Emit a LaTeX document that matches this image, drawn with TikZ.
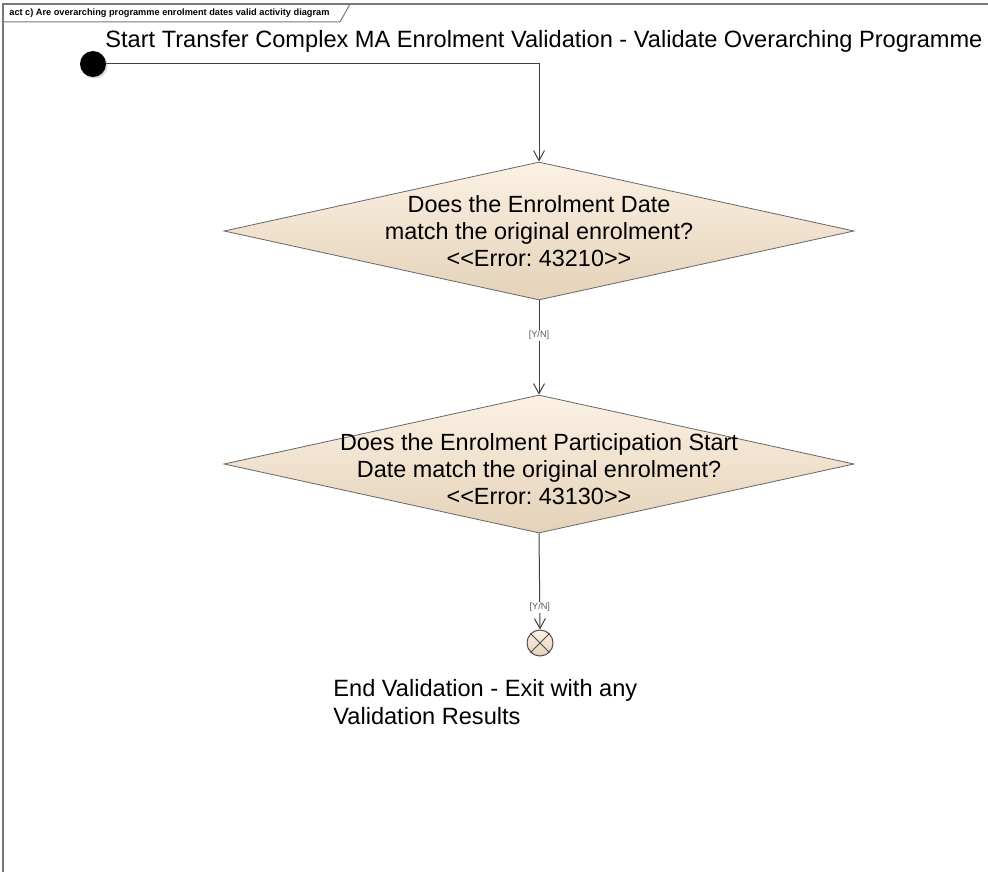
\documentclass[tikz,border=0pt]{standalone}
\usepackage{fontspec}
\setmainfont{Liberation Sans}[Ligatures=TeXOff]
\frenchspacing
\usetikzlibrary{shapes.geometric,arrows.meta,shadows}
\definecolor{decisiontop}{RGB}{252,241,228}
\definecolor{decisionbottom}{RGB}{228,210,184}
\definecolor{framegray}{RGB}{120,120,120}

\begin{document}
\begin{tikzpicture}[x=0.5pt,y=-0.5pt,
  flow/.style={draw=black!75, line width=0.5pt, -{Straight Barb[length=5pt,width=5.5pt]}},
  decision/.style={diamond, draw=black!60, line width=0.4pt, top color=decisiontop,
    bottom color=decisionbottom, minimum width=315pt, minimum height=69pt, inner sep=0pt},
  decisiontext/.style={align=center, font=\fontsize{11.7}{13.5}\selectfont},
  guard/.style={font=\fontsize{4.6}{5}\selectfont, text=black!65, fill=white, inner sep=0.6pt}]
  \useasboundingbox (0,0) rectangle (988,872);
  % diagram frame and title tab
  \draw[framegray, line width=0.6pt] (3,872) -- (3,4) -- (988,4);
  \draw[framegray, line width=0.5pt] (3,22) -- (340,22) -- (350,4);
  \node[anchor=west, font=\bfseries\fontsize{4.6}{5}\selectfont, inner sep=0pt] (title) at (9,13)
    {act c) Are overarching programme enrolment dates valid activity diagram};
  % start node
  \node[circle, fill=black, minimum size=13pt, inner sep=0pt,
    drop shadow={shadow xshift=0.8pt, shadow yshift=-0.8pt, opacity=0.3}] (start) at (93,64) {};
  \node[anchor=base west, font=\fontsize{11.8}{14}\selectfont, inner sep=0pt] (startlabel) at (105,48)
    {Start Transfer Complex MA Enrolment Validation - Validate Overarching Programme};
  % decisions
  \node[decision, label={[decisiontext]center:Does the Enrolment Date\\match the original enrolment?\\<\kern0pt<Error: 43210>\kern0pt>}] (d1) at (539,231) {};
  \node[decision, label={[decisiontext, yshift=-2.5pt]center:Does the Enrolment Participation Start\\Date match the original enrolment?\\<\kern0pt<Error: 43130>\kern0pt>}] (d2) at (539,464) {};
  % end node
  \node[circle, draw=black!70, line width=0.5pt, top color=decisiontop, bottom color=decisionbottom,
    minimum size=13pt, inner sep=0pt] (end) at (540,643) {};
  \draw[black!70, line width=0.5pt] (end.45) -- (end.225) (end.135) -- (end.315);
  \node[anchor=north west, align=left, font=\fontsize{11.8}{14}\selectfont, inner sep=0pt] (endlabel) at (333,679)
    {End Validation - Exit with any\\Validation Results};
  % flows
  \draw[flow] (start.east) -| (d1.north);
  \draw[flow] (d1.south) -- node[guard, pos=0.37] {[Y/N]} (d2.north);
  \draw[flow] (d2.south) -- node[guard, pos=0.77] {[Y/N]} (end.north);
\end{tikzpicture}
\end{document}
